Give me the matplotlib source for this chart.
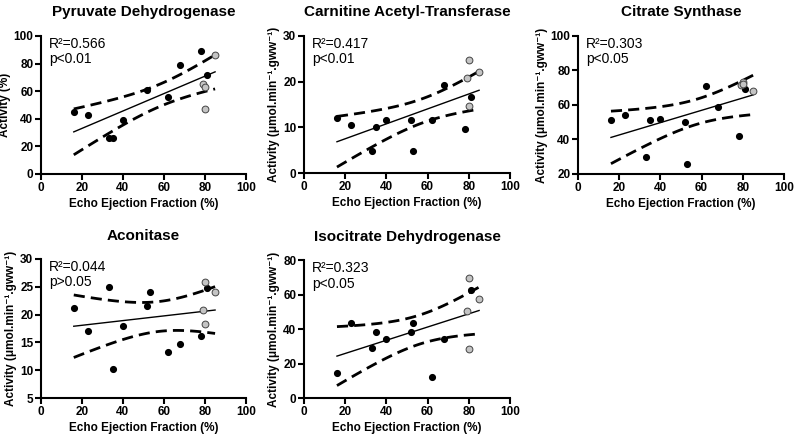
import numpy as np
import matplotlib
matplotlib.use('Agg')
import matplotlib.pyplot as plt

plt.rcParams['font.family'] = ['Liberation Sans', 'DejaVu Sans']

# echo ejection fraction (%) - black = patients, gray = controls
x_black_pdh = [16, 23, 33, 35, 40, 52, 62, 68, 78, 81]
y_black_pdh = [45, 43, 26, 26, 39, 61, 56, 79, 89, 72]
x_gray_pdh = [85, 79, 80, 80]
y_gray_pdh = [86, 65, 63, 47]

x_black_cat = [16, 23, 33, 35, 40, 52, 53, 62, 68, 78, 81]
y_black_cat = [12, 10.6, 4.8, 10, 11.5, 11.5, 4.8, 11.6, 19.3, 9.6, 16.7]
x_gray_cat = [80, 79, 85, 80]
y_gray_cat = [24.7, 20.8, 22.1, 14.7]

x_black_cs = [16, 23, 33, 35, 40, 52, 53, 62, 68, 78, 81]
y_black_cs = [51.5, 54, 30, 51.5, 52, 50, 26, 71, 59, 42, 69]
x_gray_cs = [80, 79, 85, 80]
y_gray_cs = [73, 71.5, 68, 72]

x_black_aco = [16, 23, 33, 35, 40, 52, 53, 62, 68, 78, 81]
y_black_aco = [21.2, 17, 25, 10.3, 18, 21.6, 24.1, 13.2, 14.8, 16.1, 24.7]
x_gray_aco = [80, 79, 85, 80]
y_gray_aco = [25.8, 20.8, 24.1, 18.3]

x_black_icdh = [16, 23, 33, 35, 40, 52, 53, 62, 68, 81]
y_black_icdh = [14.5, 43.5, 29, 38.5, 34, 38.5, 43.5, 12, 34, 62.5]
x_gray_icdh = [80, 79, 85, 80]
y_gray_icdh = [69.5, 50.5, 57.5, 28.5]

titles = ['Pyruvate Dehydrogenase', 'Carnitine Acetyl-Transferase', 'Citrate Synthase',
          'Aconitase', 'Isocitrate Dehydrogenase']
r2_vals = ['0.566', '0.417', '0.303', '0.044', '0.323']
p_vals = ['p<0.01', 'p<0.01', 'p<0.05', 'p>0.05', 'p<0.05']
ylims = [(0, 100), (0, 30), (20, 100), (5, 30), (0, 80)]
yticks = [[0, 20, 40, 60, 80, 100], [0, 10, 20, 30], [20, 40, 60, 80, 100],
          [5, 10, 15, 20, 25, 30], [0, 20, 40, 60, 80]]
xticks = [0, 20, 40, 60, 80, 100]
unit_label = 'Activity (\u03bcmol.min\u207b\u00b9.gww\u207b\u00b9)'
ylabels = ['Activity (%)', unit_label, unit_label, unit_label, unit_label]

data = [(x_black_pdh, y_black_pdh, x_gray_pdh, y_gray_pdh),
        (x_black_cat, y_black_cat, x_gray_cat, y_gray_cat),
        (x_black_cs, y_black_cs, x_gray_cs, y_gray_cs),
        (x_black_aco, y_black_aco, x_gray_aco, y_gray_aco),
        (x_black_icdh, y_black_icdh, x_gray_icdh, y_gray_icdh)]

# 95% t quantiles by degrees of freedom
t95 = {11: 2.201, 12: 2.179, 13: 2.160, 14: 2.145}

# axes boxes in figure fraction [left, bottom, width, height]
boxes = [[0.05125, 0.603, 0.256, 0.315],
         [0.38, 0.605, 0.2575, 0.313],
         [0.7225, 0.603, 0.2575, 0.315],
         [0.05125, 0.0913, 0.256, 0.3174],
         [0.38, 0.0913, 0.2575, 0.315]]

fig = plt.figure(figsize=(8, 4.38), dpi=100)

for i in range(5):
    ax = fig.add_axes(boxes[i])
    xb, yb, xg, yg = data[i]
    x = np.array(xb + xg, dtype=float)
    y = np.array(yb + yg, dtype=float)

    # linear regression with 95% confidence band
    n = len(x)
    slope, icpt = np.polyfit(x, y, 1)
    resid = y - (slope * x + icpt)
    s = np.sqrt(np.sum(resid ** 2) / (n - 2))
    xx = np.linspace(x.min(), x.max(), 100)
    yy = slope * xx + icpt
    se = s * np.sqrt(1.0 / n + (xx - x.mean()) ** 2 / np.sum((x - x.mean()) ** 2))
    t = t95[n - 2]

    ax.plot(xx, yy, color='black', lw=1.0, zorder=2)
    ax.plot(xx, yy + t * se, color='black', lw=2.0, dashes=(4, 2.2), zorder=2)
    ax.plot(xx, yy - t * se, color='black', lw=2.0, dashes=(4, 2.2), zorder=2)

    ax.scatter(xb, yb, s=17, color='black', zorder=3, clip_on=False)
    ax.scatter(xg, yg, s=24, color='#c4c4c4', edgecolor='#444444', linewidth=0.7,
               zorder=4, clip_on=False)

    ax.set_xlim(0, 100)
    ax.set_ylim(*ylims[i])
    ax.set_xticks(xticks)
    ax.set_yticks(yticks[i])
    for side in ['top', 'right']:
        ax.spines[side].set_visible(False)
    for side in ['left', 'bottom']:
        ax.spines[side].set_linewidth(1.5)
    ax.tick_params(direction='out', length=4, width=1.5, labelsize=8.5, pad=1.5)
    for lab in ax.get_xticklabels() + ax.get_yticklabels():
        lab.set_fontweight('bold')

    ax.set_title(titles[i], fontsize=11, fontweight='bold', pad=14)
    ax.set_xlabel('Echo Ejection Fraction (%)', fontsize=8.5, fontweight='bold', labelpad=3)
    ax.set_ylabel(ylabels[i], fontsize=8.5, fontweight='bold', labelpad=2)

    ax.text(0.04, 0.99, 'R\u00b2=' + r2_vals[i] + '\n' + p_vals[i],
            transform=ax.transAxes, fontsize=10, va='top', ha='left', linespacing=1.1)

fig.savefig('out.png', dpi=100)
